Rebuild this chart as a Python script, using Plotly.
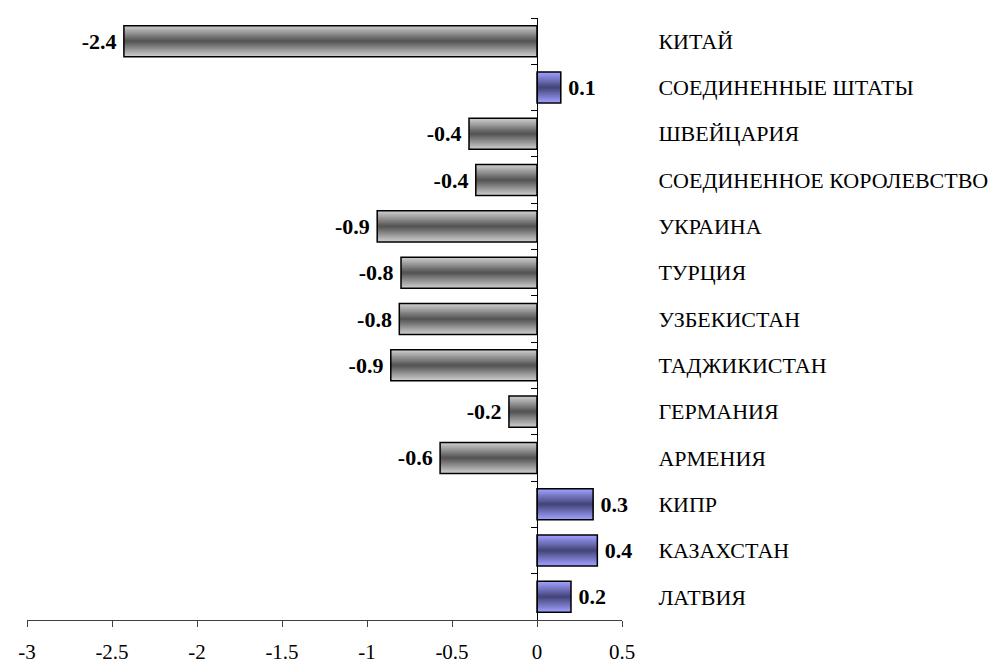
import plotly.graph_objects as go

categories = ["КИТАЙ", "СОЕДИНЕННЫЕ ШТАТЫ", "ШВЕЙЦАРИЯ", "СОЕДИНЕННОЕ КОРОЛЕВСТВО",
              "УКРАИНА", "ТУРЦИЯ", "УЗБЕКИСТАН", "ТАДЖИКИСТАН", "ГЕРМАНИЯ",
              "АРМЕНИЯ", "КИПР", "КАЗАХСТАН", "ЛАТВИЯ"]
values = [-2.43, 0.14, -0.40, -0.36, -0.94, -0.80, -0.81, -0.86, -0.165, -0.57, 0.33, 0.355, 0.20]
labels = ["-2.4", "0.1", "-0.4", "-0.4", "-0.9", "-0.8", "-0.8", "-0.9", "-0.2", "-0.6", "0.3", "0.4", "0.2"]
x_tickvals = [-3, -2.5, -2, -1.5, -1, -0.5, 0, 0.5]
x_ticktext = ["-3", "-2.5", "-2", "-1.5", "-1", "-0.5", "0", "0.5"]

SERIF = "Liberation Serif"
BAR_W = 0.67
LAYERS = 14
gray_light, gray_dark = (204, 204, 204), (86, 86, 86)
blue_light, blue_dark = (160, 160, 255), (70, 70, 124)


def mix(a, b, t):
    return "rgb(%d,%d,%d)" % tuple(round(a[i] + (b[i] - a[i]) * t) for i in range(3))


fig = go.Figure()
for k in range(LAYERS):
    t = k / (LAYERS - 1)
    w = BAR_W * (1 - k / LAYERS)
    cols = [mix(gray_light, gray_dark, t) if v < 0 else mix(blue_light, blue_dark, t) for v in values]
    fig.add_trace(go.Bar(x=values, y=categories, orientation="h", width=w,
                         marker=dict(color=cols, line=dict(width=0)),
                         hoverinfo="skip", showlegend=False))

# outline + value labels (a thin space keeps them off the bar end)
shown = [(lab + "\u2009") if v < 0 else ("\u2009" + lab) for lab, v in zip(labels, values)]
fig.add_trace(go.Bar(x=values, y=categories, orientation="h", width=BAR_W,
                     marker=dict(color="rgba(0,0,0,0)", line=dict(color="black", width=1.5)),
                     text=shown, textposition="outside", constraintext="none",
                     textfont=dict(family=SERIF, size=22, color="black", weight="bold"),
                     cliponaxis=False, hoverinfo="skip", showlegend=False))

# invisible trace to display the zero-axis with category boundary ticks
fig.add_trace(go.Scatter(x=[0] * len(categories), y=categories, yaxis="y2", mode="markers",
                         marker=dict(opacity=0), hoverinfo="skip", showlegend=False))

yrange = [len(categories) - 0.5, -0.5]
fig.update_layout(
    width=996, height=666,
    margin=dict(l=12, r=382, t=10, b=51),
    paper_bgcolor="white", plot_bgcolor="white",
    barmode="overlay",
    font=dict(family=SERIF),
    xaxis=dict(range=[-3, 0.5], tickvals=x_tickvals, ticktext=x_ticktext,
               showgrid=False, zeroline=False, showline=True, linecolor="#404040", linewidth=1,
               ticks="outside", ticklen=6, tickcolor="#404040", ticklabelstandoff=7,
               tickfont=dict(family=SERIF, size=21, color="black")),
    yaxis=dict(type="category", categoryorder="array", categoryarray=categories,
               range=yrange, side="right", showgrid=False, zeroline=False, showline=False,
               ticks="outside", ticklen=31, tickcolor="rgba(0,0,0,0)",
               tickfont=dict(family=SERIF, size=22, color="black")),
    yaxis2=dict(type="category", categoryorder="array", categoryarray=categories,
                range=yrange, overlaying="y", anchor="free", position=3 / 3.5, side="left",
                showgrid=False, zeroline=False, showline=True, linecolor="black", linewidth=1,
                ticks="outside", ticklen=6, tickcolor="black", tickson="boundaries",
                showticklabels=False),
)

fig.write_html("out.html")
